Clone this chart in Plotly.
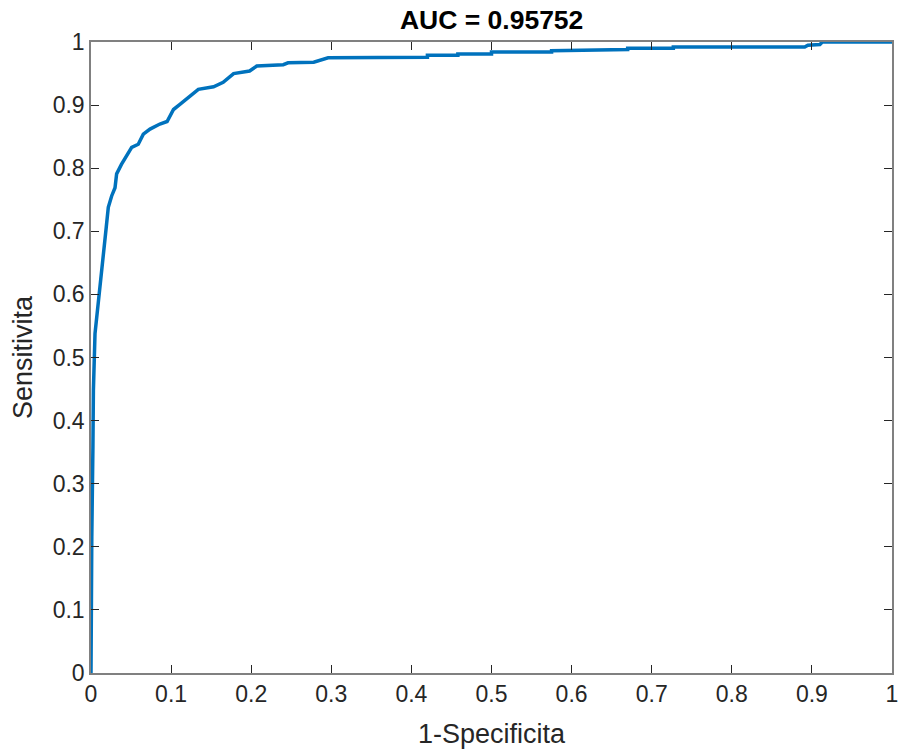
import plotly.graph_objects as go

# ROC curve points
fpr = [0.0, 0.0, 0.001, 0.0024, 0.003, 0.005, 0.009, 0.012, 0.016, 0.019, 0.0216, 0.0258, 0.030, 0.032,
       0.038, 0.0445, 0.0508, 0.059, 0.0653, 0.0737, 0.086, 0.095, 0.103, 0.111, 0.124, 0.134,
       0.153, 0.165, 0.178, 0.198, 0.207, 0.240, 0.246, 0.278, 0.296, 0.42, 0.42, 0.458, 0.458,
       0.50, 0.50, 0.575, 0.575, 0.67, 0.67, 0.727, 0.727, 0.891, 0.895, 0.91, 0.913, 1.0]
tpr = [0.0, 0.057, 0.216, 0.358, 0.448, 0.538, 0.590, 0.617, 0.669, 0.706, 0.738, 0.756, 0.769, 0.791,
       0.806, 0.820, 0.833, 0.838, 0.854, 0.862, 0.870, 0.874, 0.893, 0.901, 0.915, 0.925,
       0.929, 0.936, 0.950, 0.954, 0.962, 0.964, 0.967, 0.968, 0.975, 0.976, 0.979, 0.979, 0.981,
       0.981, 0.984, 0.984, 0.986, 0.988, 0.990, 0.990, 0.992, 0.992, 0.995, 0.996, 1.0, 1.0]
auc_text = "AUC = 0.95752"
x_label = "1-Specificita"
y_label = "Sensitivita"
tick_vals = [0, 0.1, 0.2, 0.3, 0.4, 0.5, 0.6, 0.7, 0.8, 0.9, 1]
tick_text = ["0", "0.1", "0.2", "0.3", "0.4", "0.5", "0.6", "0.7", "0.8", "0.9", "1"]

FONT = "Liberation Sans, Arial, sans-serif"

fig = go.Figure()
fig.add_trace(go.Scatter(x=fpr, y=tpr, mode="lines",
                         line=dict(color="#0072BD", width=3.5), showlegend=False))

axis_common = dict(
    range=[0, 1], showgrid=False, zeroline=False, showline=True,
    linecolor="#808080", linewidth=1.5, mirror="ticks",
    ticks="inside", ticklen=8, tickwidth=1, tickcolor="#262626",
    tickvals=tick_vals, ticktext=tick_text, automargin=False,
    ticklabeloverflow="allow",
    tickfont=dict(family=FONT, size=23, color="#262626"),
)

fig.update_layout(
    width=898, height=749,
    margin=dict(l=91, r=6, t=42, b=76),
    paper_bgcolor="white", plot_bgcolor="white",
    title=dict(text="<b>" + auc_text + "</b>", x=0.5475, xanchor="center", y=0.973, yanchor="middle",
               font=dict(family=FONT, size=26.5, color="#000000")),
    xaxis=dict(**axis_common,
               title=dict(text=x_label, standoff=19,
                          font=dict(family=FONT, size=27, color="#262626"))),
    yaxis=dict(**axis_common,
               title=dict(text=y_label, standoff=12,
                          font=dict(family=FONT, size=27, color="#262626"))),
)

fig.write_html("out.html", config={"displayModeBar": False},
               post_script="document.body.style.margin='0';document.body.style.overflow='hidden';")
